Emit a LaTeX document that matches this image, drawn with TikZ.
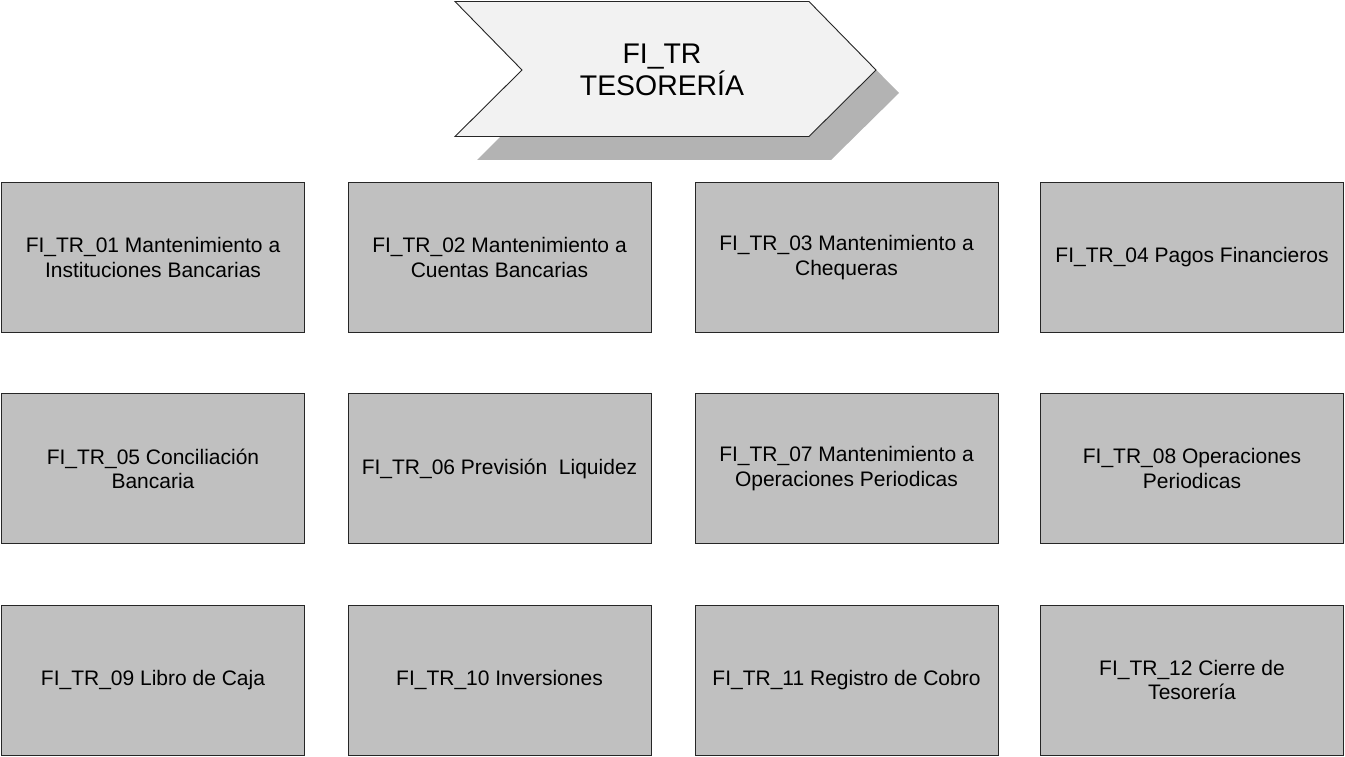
\documentclass[tikz,border=0pt]{standalone}
\usepackage{fontspec}
\setmainfont{Liberation Sans}
\begin{document}
\begin{tikzpicture}[x=1pt,y=-1pt,
  taskbox/.style={draw=black!85, line width=0.9pt, fill=boxgray,
    minimum width=303pt, minimum height=150pt, inner sep=0pt,
    align=center, font=\fontsize{21}{24.2}\selectfont},
  headtext/.style={align=center, font=\fontsize{28.4}{32.5}\selectfont}]
\definecolor{boxgray}{HTML}{C0C0C0}
\definecolor{chevfill}{HTML}{F2F2F2}
\definecolor{shadowgray}{HTML}{B3B3B3}
\useasboundingbox (0,0) rectangle (1345,757);

% chevron shadow and body
\fill[shadowgray] (477,24) -- (831,24) -- (899,93) -- (831,160) -- (477,160) -- (544,93) -- cycle;
\draw[fill=chevfill, draw=black!85, line width=0.9pt]
  (455,1.5) -- (809,1.5) -- (876,70) -- (809,136.5) -- (455,136.5) -- (522,70) -- cycle;
\node[headtext] (head) at (662,70) {FI\_TR\\TESORERÍA};

% task grid
\node[taskbox] (t01) at (153,257.5)   {FI\_TR\_01 Mantenimiento a\\Instituciones Bancarias};
\node[taskbox] (t02) at (499.5,257.5) {FI\_TR\_02 Mantenimiento a\\Cuentas Bancarias};
\node[taskbox] (t03) at (846.5,257.5) {FI\_TR\_03 Mantenimiento a\\Chequeras};
\node[taskbox] (t04) at (1192,257.5)  {FI\_TR\_04 Pagos Financieros};

\node[taskbox] (t05) at (153,468.5)   {FI\_TR\_05 Conciliación\\Bancaria};
\node[taskbox] (t06) at (499.5,468.5) {FI\_TR\_06 Previsión\ \ Liquidez};
\node[taskbox] (t07) at (846.5,468.5) {FI\_TR\_07 Mantenimiento a\\Operaciones Periodicas};
\node[taskbox] (t08) at (1192,468.5)  {FI\_TR\_08 Operaciones\\Periodicas};

\node[taskbox] (t09) at (153,680)   {FI\_TR\_09 Libro de Caja};
\node[taskbox] (t10) at (499.5,680) {FI\_TR\_10 Inversiones};
\node[taskbox] (t11) at (846.5,680) {FI\_TR\_11 Registro de Cobro};
\node[taskbox] (t12) at (1192,680)  {FI\_TR\_12 Cierre de\\Tesorería};
\end{tikzpicture}
\end{document}
